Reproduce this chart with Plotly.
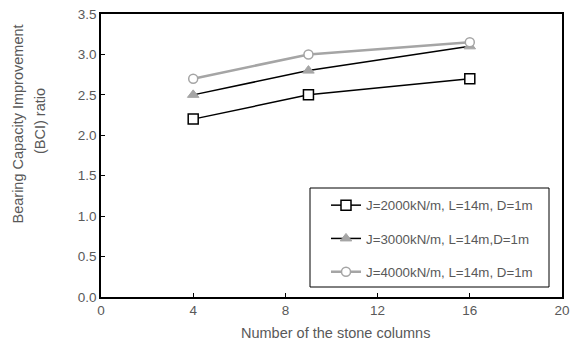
import plotly.graph_objects as go

columns = [4, 9, 16]
s1_name = "J=2000kN/m, L=14m, D=1m"
s2_name = "J=3000kN/m, L=14m,D=1m"
s3_name = "J=4000kN/m, L=14m, D=1m"
s1 = [2.2, 2.5, 2.7]
s2 = [2.5, 2.8, 3.1]
s3 = [2.7, 3.0, 3.15]
x_ticks = [0, 4, 8, 12, 16, 20]
y_ticks = [0, 0.5, 1, 1.5, 2, 2.5, 3, 3.5]

L, R, T, B = 101, 562, 14, 297
W, H = R - L, B - T


def px(x):
    return (x - L) / W


def py(y):
    return (B - y) / H


fig = go.Figure()
fig.add_trace(go.Scatter(x=columns, y=s1, name=s1_name, mode="lines+markers", legendgroup="a",
                         line=dict(color="black", width=1.5),
                         marker=dict(symbol="square", size=10, color="white",
                                     line=dict(color="black", width=1.5))))
fig.add_trace(go.Scatter(x=columns, y=s2, name=s2_name, mode="lines+markers", legendgroup="b",
                         line=dict(color="black", width=1.5),
                         marker=dict(symbol="triangle-up", size=10, color="#A5A5A5",
                                     line=dict(color="#A5A5A5", width=1))))
fig.add_trace(go.Scatter(x=columns, y=s3, name=s3_name, mode="lines+markers", legendgroup="c",
                         line=dict(color="#A5A5A5", width=2.5),
                         marker=dict(symbol="circle", size=9, color="white",
                                     line=dict(color="#A5A5A5", width=1.5))))

fig.update_layout(
    width=570, height=345,
    margin=dict(l=L, r=570 - R, t=T, b=345 - B, autoexpand=False),
    paper_bgcolor="white", plot_bgcolor="white",
    font=dict(family="Liberation Sans, Arial", size=12, color="#595959"),
    showlegend=True,
    legend=dict(x=px(326), y=py(190), xanchor="left", yanchor="top",
                borderwidth=0, bgcolor="rgba(0,0,0,0)",
                font=dict(size=13.3, color="#595959"),
                tracegroupgap=13, itemwidth=30),
    xaxis=dict(range=[0, 20], tickvals=x_ticks,
               showline=True, linecolor="black", linewidth=1.5, mirror=True,
               ticks="inside", ticklen=4, tickcolor="black",
               showgrid=False, zeroline=False, automargin=False,
               tickfont=dict(size=13.5)),
    yaxis=dict(range=[0, 3.5], tickvals=y_ticks,
               tickformat=".1f",
               showline=True, linecolor="black", linewidth=1.5, mirror=True,
               ticks="inside", ticklen=4, tickcolor="black",
               showgrid=False, zeroline=False, automargin=False,
               tickfont=dict(size=13.5)),
    shapes=[
        dict(type="rect", xref="paper", yref="paper",
             x0=px(310), x1=px(549), y0=py(287), y1=py(188),
             line=dict(color="black", width=1), fillcolor="rgba(0,0,0,0)", layer="above"),
    ],
    annotations=[
        dict(text="Number of the stone columns", xref="paper", yref="paper",
             x=px(335), y=py(333), xanchor="center", yanchor="middle",
             showarrow=False, font=dict(size=14.5, color="#595959")),
        dict(text="Bearing Capacity Improvement", xref="paper", yref="paper",
             x=px(17.5), y=py(124), xanchor="center", yanchor="middle",
             textangle=-90, showarrow=False, font=dict(size=14.5, color="#595959")),
        dict(text="(BCI) ratio", xref="paper", yref="paper",
             x=px(40), y=py(121), xanchor="center", yanchor="middle",
             textangle=-90, showarrow=False, font=dict(size=14.5, color="#595959")),
    ],
)

fig.write_html("out.html", config={"displayModeBar": False},
               post_script="document.body.style.margin='0';document.body.style.overflow='hidden';")
